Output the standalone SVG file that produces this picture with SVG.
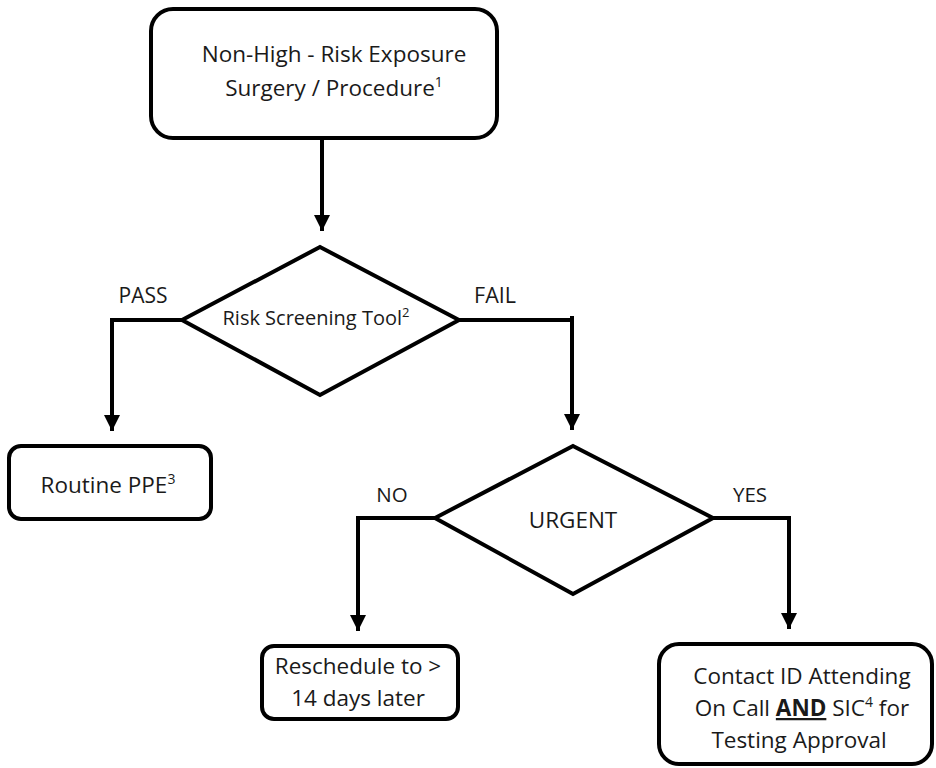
<svg xmlns="http://www.w3.org/2000/svg" width="936" height="768" viewBox="0 0 936 768">
<style>
.box{fill:#fff;stroke:#000;stroke-width:4}
.dia{fill:#fff;stroke:#000;stroke-width:4;stroke-linejoin:miter}
.ln{fill:none;stroke:#000;stroke-width:4}
text{font-family:"Open Sans","Liberation Sans",sans-serif;fill:#1a1a1a;font-size:22.5px}
.c{text-anchor:middle}
.lbl{font-size:20.5px}
.sup{font-size:14px}
</style>
<defs>
<marker id="ah" markerUnits="userSpaceOnUse" markerWidth="18" markerHeight="16" refX="16" refY="8" orient="auto">
<path d="M0,0 L16,8 L0,16 Z" fill="#000"/>
</marker>
</defs>
<rect width="936" height="768" fill="#fff"/>
<g id="connectors">
<path class="ln" d="M322,138 V231" marker-end="url(#ah)"/>
<path class="ln" d="M182,320 H112 V431" marker-end="url(#ah)"/>
<path class="ln" d="M459,320 H572 V316 M572,320 V430" marker-end="url(#ah)"/>
<path class="ln" d="M435,518 H358 V631" marker-end="url(#ah)"/>
<path class="ln" d="M713,518 H789 V629" marker-end="url(#ah)"/>
</g>
<g id="labels">
<text x="143" y="303" class="c lbl" style="font-size:21px">PASS</text>
<text x="495" y="303" class="c lbl" style="font-size:21.5px">FAIL</text>
<text x="392" y="502" class="c lbl">NO</text>
<text x="750" y="502" class="c lbl">YES</text>
</g>
<g id="start">
<rect class="box" x="151" y="9" width="346" height="129" rx="22"/>
<text x="334" y="62" class="c">Non-High - Risk Exposure</text>
<text x="334" y="96" class="c">Surgery / Procedure<tspan class="sup" dy="-9">1</tspan></text>
</g>
<g id="screening">
<polygon class="dia" points="320,247 459,320 320,395 182,320"/>
<text x="316" y="325" class="c" style="font-size:20px">Risk Screening Tool<tspan class="sup" dy="-8" style="font-size:13px">2</tspan></text>
</g>
<g id="routine">
<rect class="box" x="9" y="446" width="202" height="73" rx="12"/>
<text x="108" y="493" class="c">Routine PPE<tspan class="sup" dy="-9">3</tspan></text>
</g>
<g id="urgent">
<polygon class="dia" points="573,446 713,518 573,594 435,518"/>
<text x="573" y="528" class="c">URGENT</text>
</g>
<g id="reschedule">
<rect class="box" x="262" y="646" width="196" height="73" rx="12"/>
<text x="358" y="674" class="c">Reschedule to &gt;</text>
<text x="358" y="706" class="c">14 days later</text>
</g>
<g id="contact">
<rect class="box" x="659" y="644" width="273" height="120" rx="20"/>
<text x="802" y="684" class="c">Contact ID Attending</text>
<text x="802" y="716" class="c">On Call <tspan font-weight="bold" text-decoration="underline">AND</tspan> SIC<tspan class="sup" dy="-9">4</tspan><tspan dy="9"> for</tspan></text>
<text x="799" y="748" class="c">Testing Approval</text>
</g>
</svg>
